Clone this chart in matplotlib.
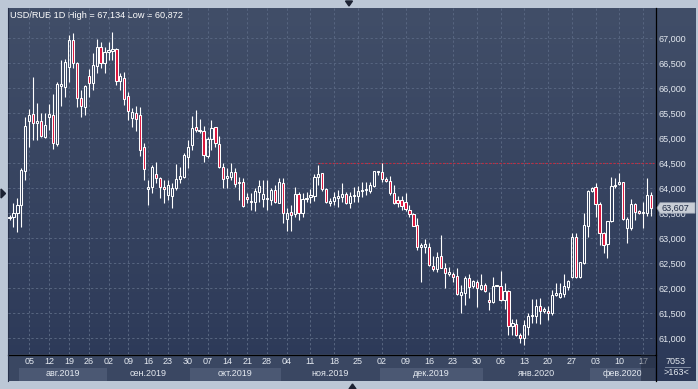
import numpy as np
import matplotlib
matplotlib.use('Agg')
import matplotlib.pyplot as plt
from matplotlib.patches import Rectangle, Polygon
from matplotlib.transforms import blended_transform_factory

plt.rcParams['font.family'] = ['Liberation Sans', 'DejaVu Sans']

# ---------------- data (USD/RUB daily candles) ----------------
opens = [63.40, 63.42, 63.51, 63.66, 64.35, 65.35, 65.48, 65.30, 65.34, 65.03,
         65.43, 65.46, 64.89, 66.05, 66.03, 66.42, 66.97, 66.50, 65.80, 65.62,
         66.25, 66.10, 66.45, 66.82, 66.51, 66.72, 66.75, 66.78, 66.15, 66.20,
         65.85, 65.40, 65.51, 65.47, 64.83, 64.00, 64.02, 64.28, 64.20, 64.02,
         63.87, 63.85, 64.00, 64.18, 64.23, 64.63, 64.87, 65.22, 65.15, 65.15,
         64.65, 64.98, 65.22, 64.88, 64.43, 64.22, 64.23, 64.32, 64.12, 64.12,
         63.83, 63.75, 63.72, 63.93, 63.78, 63.79, 63.77, 63.97, 63.71, 64.11,
         63.38, 63.52, 63.49, 63.89, 63.50, 63.78, 63.83, 63.85, 64.23, 64.30,
         63.99, 63.71, 63.75, 63.82, 63.82, 63.88, 63.71, 63.85, 63.85, 63.95,
         63.97, 63.95, 64.05, 64.33, 64.33, 64.18, 64.15, 63.90, 63.77, 63.77,
         63.73, 63.57, 63.48, 63.27, 62.82, 62.83, 62.83, 62.45, 62.39, 62.65,
         62.40, 62.30, 62.28, 62.25, 61.87, 61.90, 62.20, 62.05, 62.12, 61.98,
         62.07, 61.77, 61.72, 62.05, 62.05, 61.77, 61.95, 61.25, 61.29, 61.07,
         61.00, 61.23, 61.45, 61.45, 61.65, 61.55, 61.55, 61.50, 61.87, 61.83,
         61.89, 62.03, 62.22, 63.02, 62.22, 62.51, 63.25, 63.95, 64.03, 63.68,
         63.10, 62.88, 63.35, 64.05, 64.08, 64.12, 63.20, 63.20, 63.69, 63.55,
         63.51, 63.51, 63.87]
highs = [63.46, 63.71, 63.80, 64.40, 65.42, 65.58, 66.22, 65.70, 65.50, 65.50,
         65.68, 65.89, 66.13, 66.57, 66.58, 67.07, 67.10, 66.53, 65.97, 66.07,
         66.38, 66.70, 66.98, 66.93, 66.83, 66.93, 67.134, 66.80, 66.30, 66.33,
         65.93, 65.60, 65.65, 65.62, 64.91, 64.17, 64.47, 64.53, 64.23, 64.17,
         64.17, 64.10, 64.49, 64.43, 64.70, 64.97, 65.45, 65.57, 65.38, 65.25,
         65.02, 65.37, 65.23, 65.05, 64.50, 64.40, 64.50, 64.40, 64.22, 64.20,
         63.90, 63.90, 64.00, 64.17, 64.17, 64.17, 64.00, 64.07, 64.20, 64.20,
         63.60, 63.67, 64.03, 63.93, 63.90, 63.93, 63.98, 64.29, 64.47, 64.31,
         64.00, 63.80, 63.93, 63.97, 64.10, 63.93, 63.93, 64.03, 64.05, 64.13,
         64.13, 64.13, 64.35, 64.35, 64.50, 64.23, 64.25, 64.07, 63.85, 63.85,
         63.90, 63.67, 63.50, 63.40, 62.91, 62.98, 62.90, 62.65, 62.73, 63.07,
         62.50, 62.43, 62.33, 62.40, 62.07, 62.25, 62.29, 62.17, 62.17, 62.29,
         62.11, 61.93, 62.22, 62.07, 62.35, 62.11, 61.97, 61.38, 61.38, 61.10,
         61.37, 61.50, 61.78, 61.78, 61.80, 61.62, 61.65, 61.97, 62.10, 62.10,
         62.29, 62.17, 63.11, 63.10, 62.53, 63.50, 63.97, 64.02, 64.10, 63.73,
         63.13, 63.35, 64.23, 64.20, 64.30, 64.13, 63.43, 63.78, 63.70, 63.57,
         63.73, 64.20, 63.93]
lows = [63.37, 63.23, 63.12, 63.23, 64.17, 64.83, 64.97, 64.97, 65.02, 65.00,
        65.17, 64.78, 64.85, 65.65, 65.83, 66.13, 66.40, 65.63, 65.43, 65.47,
        65.83, 65.97, 66.31, 66.40, 66.30, 66.57, 66.57, 66.07, 65.97, 65.67,
        65.37, 65.23, 65.15, 64.65, 64.17, 63.67, 63.90, 64.10, 63.80, 63.70,
        63.77, 63.60, 63.97, 64.10, 64.20, 64.40, 64.77, 65.13, 65.10, 64.53,
        64.60, 64.77, 64.83, 64.40, 64.00, 64.00, 64.17, 64.03, 63.77, 63.63,
        63.70, 63.57, 63.55, 63.73, 63.63, 63.57, 63.67, 63.70, 63.70, 63.30,
        63.15, 63.15, 63.43, 63.37, 63.43, 63.73, 63.71, 63.75, 64.07, 63.95,
        63.70, 63.65, 63.67, 63.63, 63.72, 63.69, 63.60, 63.73, 63.73, 63.83,
        63.87, 63.90, 64.03, 64.27, 64.13, 64.13, 63.87, 63.69, 63.63, 63.57,
        63.55, 63.43, 63.25, 62.77, 62.13, 62.70, 62.45, 62.35, 62.33, 62.40,
        62.00, 62.25, 62.13, 61.87, 61.51, 61.67, 61.80, 62.00, 61.63, 61.97,
        61.93, 61.57, 61.70, 62.05, 61.75, 61.58, 61.07, 61.07, 61.05, 60.90,
        60.872, 61.07, 61.31, 61.31, 61.29, 61.51, 61.37, 61.47, 61.85, 61.80,
        61.83, 61.97, 62.20, 62.20, 62.20, 62.49, 63.03, 63.93, 63.43, 62.87,
        62.71, 62.60, 63.33, 64.00, 64.07, 63.37, 62.90, 63.17, 63.37, 63.49,
        63.20, 63.45, 63.45]
closes = [63.42, 63.51, 63.66, 64.37, 65.25, 65.46, 65.30, 65.34, 65.05, 65.26,
          65.48, 64.90, 66.08, 66.09, 66.53, 66.97, 66.50, 65.80, 65.65, 66.05,
          66.10, 66.47, 66.82, 66.51, 66.72, 66.77, 66.78, 66.15, 66.25, 65.78,
          65.55, 65.53, 65.39, 64.77, 64.38, 64.01, 64.43, 64.20, 64.03, 63.98,
          64.06, 64.00, 64.18, 64.25, 64.67, 64.83, 65.20, 65.17, 65.17, 64.67,
          64.98, 65.20, 64.90, 64.43, 64.18, 64.23, 64.32, 64.09, 64.10, 63.65,
          63.78, 63.72, 63.95, 64.05, 63.88, 63.80, 63.97, 63.72, 64.13, 63.50,
          63.51, 63.47, 63.89, 63.51, 63.78, 63.81, 63.87, 64.23, 64.29, 63.98,
          63.72, 63.75, 63.82, 63.83, 63.88, 63.71, 63.85, 63.87, 63.95, 63.97,
          63.98, 64.06, 64.35, 64.35, 64.18, 64.14, 63.90, 63.71, 63.71, 63.65,
          63.58, 63.48, 63.25, 62.82, 62.86, 62.88, 62.47, 62.39, 62.63, 62.41,
          62.30, 62.31, 62.23, 61.88, 61.92, 62.20, 62.03, 62.15, 62.01, 62.07,
          61.95, 61.72, 62.05, 62.07, 61.77, 61.95, 61.25, 61.30, 61.07, 61.00,
          61.27, 61.45, 61.47, 61.65, 61.55, 61.58, 61.50, 61.87, 61.90, 61.90,
          62.05, 62.15, 63.02, 62.23, 62.52, 63.26, 63.95, 64.00, 63.69, 63.10,
          62.87, 63.35, 64.05, 64.06, 64.12, 63.38, 63.38, 63.69, 63.53, 63.50,
          63.53, 63.87, 63.607]

week_tick_idx = [5, 10, 15, 20, 25, 30, 35, 40, 45, 50, 55, 60, 65, 70,
                 76, 82, 88, 94, 100, 106, 112, 118, 124, 130, 136, 142, 148, 154, 160]
week_labels = ['05', '12', '19', '26', '02', '09', '16', '23', '30', '07', '14', '21', '28',
               '04', '11', '18', '25', '02', '09', '16', '23', '30', '06', '13', '20', '27',
               '03', '10', '17']
month_labels = ['авг.2019', 'сен.2019', 'окт.2019', 'ноя.2019', 'дек.2019', 'янв.2020', 'фев.2020']
month_start = [2.5, 24.5, 45.5, 68.5, 93.5, 119.5, 146.5]
month_end = 163.0
price_ticks = np.arange(61.0, 67.01, 0.5)
level_line = 64.5
level_start = 78
title = 'USD/RUB 1D High = 67,134 Low = 60,872'
last_price = 63.607
bar_count_text = '7053'
bar_count_text2 = '>163<'

# ---------------- styling ----------------
W, H = 698, 389
frame_c = '#bcc7d6'
top_c = np.array([0x41, 0x4e, 0x68]) / 255
bot_c = np.array([0x2c, 0x39, 0x58]) / 255
panel_c = '#3a4762'
band_c = '#4b5873'
grid_c = '#56647f'
red_c = '#dc143c'
text_c = '#e4e9f0'

fig = plt.figure(figsize=(W / 100, H / 100), dpi=100)
fig.patch.set_facecolor(frame_c)

# overlay in pixel coordinates for panels
ax0 = fig.add_axes([0, 0, 1, 1], zorder=0)
ax0.set_xlim(0, W)
ax0.set_ylim(H, 0)
ax0.axis('off')
grad = np.linspace(0, 1, 256)[:, None, None]
img = top_c[None, None, :] * (1 - grad) + bot_c[None, None, :] * grad
ax0.imshow(img, extent=(8, 696, 381, 8), aspect='auto', interpolation='bilinear', zorder=0)
ax0.add_patch(Rectangle((8, 354), 647, 27, facecolor=panel_c, edgecolor='none', zorder=1))
ax0.plot([655.5, 655.5], [8, 381], color='black', lw=0.9, zorder=3)
ax0.plot([8, 655.5], [354.5, 354.5], color='black', lw=0.9, zorder=3)
ax0.plot([7.5, 7.5], [8, 381], color='#26304a', lw=0.8, zorder=3)
# scroll markers
ax0.add_patch(Polygon([[345.5, 1], [352.5, 1], [349, 6]], closed=True, color='#1c2233', zorder=3))
ax0.add_patch(Polygon([[1, 189], [1, 198], [5.5, 193.5]], closed=True, color='#1c2233', zorder=3))
ax0.add_patch(Polygon([[349, 389], [356, 389], [352.5, 384]], closed=True, color='#1c2233', zorder=3))
ax0.text(10, 15, title, color='white', fontsize=6.6, va='center', ha='left', zorder=4)
ax0.text(676, 361, bar_count_text, color=text_c, fontsize=6.5, va='center', ha='center', zorder=4)
ax0.plot([665, 690], [366.5, 366.5], color='#8b97ab', lw=0.6, zorder=4)
ax0.text(676, 372.5, bar_count_text2, color=text_c, fontsize=6.5, va='center', ha='center', zorder=4)

# main chart axes
ax = fig.add_axes([8 / W, (H - 354) / H, 647 / W, 346 / H], zorder=2)
ax.set_facecolor('none')
for s in ax.spines.values():
    s.set_visible(False)
ax.set_xlim(-0.379, 163.005)
ax.set_ylim(60.686, 67.606)

o = np.array(opens); h = np.array(highs); l = np.array(lows); c = np.array(closes)
idx = np.arange(len(o))
top = np.maximum(o, c)
bot = np.minimum(o, c)
small = (top - bot) < 0.025
mid = (top + bot) / 2
top = np.where(small, mid + 0.0125, top)
bot = np.where(small, mid - 0.0125, bot)
ax.vlines(idx, top, h, color='white', lw=0.8, zorder=3)
ax.vlines(idx, l, bot, color='white', lw=0.8, zorder=3)
bw = 0.56
for i in idx:
    fc = red_c if c[i] < o[i] else 'none'
    ax.add_patch(Rectangle((i - bw / 2, bot[i]), bw, top[i] - bot[i], facecolor=fc,
                           edgecolor='white', lw=0.75, zorder=4))

# level line
ax.hlines(level_line, level_start, 163.005, colors='#c8283c', linestyles=(0, (1.6, 1.6)), lw=0.8, zorder=2)

# grid and ticks
ax.set_axisbelow(True)
ax.grid(True, color=grid_c, linestyle=(0, (2.2, 2.2)), lw=0.75)
ax.yaxis.tick_right()
ax.set_yticks(price_ticks)
ax.set_yticklabels([f'{v:.3f}'.replace('.', ',') for v in price_ticks])
ax.set_xticks(week_tick_idx)
ax.set_xticklabels(week_labels)
ax.tick_params(axis='y', length=0, pad=2.2, labelsize=6.5, labelcolor=text_c)
ax.tick_params(axis='x', length=0, pad=2.4, labelsize=6.5, labelcolor=text_c)

# month bands
trans = blended_transform_factory(ax.transData, ax.transAxes)
ymb0 = -(381 - 354) / 346
ymb1 = -(368 - 354) / 346
ends = month_start[1:] + [month_end]
for k, (ms, me, lab) in enumerate(zip(month_start, ends, month_labels)):
    if k % 2 == 0:
        ax.add_patch(Rectangle((ms, ymb0), me - ms, ymb1 - ymb0, transform=trans,
                               facecolor=band_c, edgecolor='none', clip_on=False, zorder=0.3))
    ax.text((ms + me) / 2, -(373.3 - 354) / 346, lab, transform=trans, ha='center', va='center',
            fontsize=6.5, color=text_c, clip_on=False, zorder=3)
# current week shade
ax.add_patch(Rectangle((week_tick_idx[-1] - 0.5, ymb0), month_end - week_tick_idx[-1] + 0.5, -ymb0 - 0.003,
                       transform=trans, facecolor='#1a2236', alpha=0.45, edgecolor='none',
                       clip_on=False, zorder=6))

# last price marker
tr2 = blended_transform_factory(ax.transAxes, ax.transData)
x0 = 1.0 + 2 / 647
x1 = 1.0 + 5 / 647
x2 = 1.0 + 40 / 647
hh = 0.105
ax.add_patch(Polygon([[x0, last_price], [x1, last_price + hh], [x2, last_price + hh],
                      [x2, last_price - hh], [x1, last_price - hh]], closed=True,
                     transform=tr2, facecolor='#c9ced6', edgecolor='#9aa3b2', lw=0.5,
                     clip_on=False, zorder=8))
ax.text(1.0 + 6 / 647, last_price, f'{last_price:.3f}'.replace('.', ','), transform=tr2,
        ha='left', va='center', fontsize=6.5, color='#1e2a44', clip_on=False, zorder=9)

fig.savefig('out.png', dpi=100, facecolor=fig.get_facecolor())
